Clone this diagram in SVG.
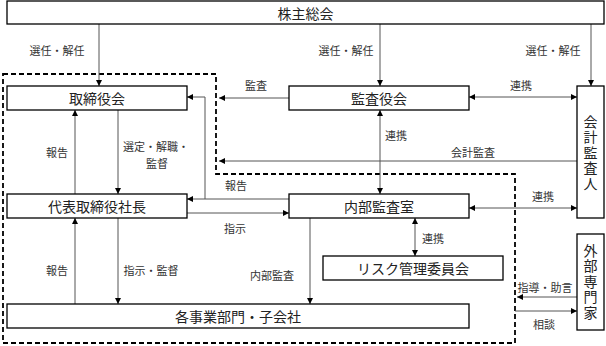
<svg xmlns="http://www.w3.org/2000/svg" width="606" height="346" viewBox="0 0 606 346">
<style>
.box{fill:#fff;stroke:#000;stroke-width:1.3}
.bt{font-family:"Noto Sans CJK JP","Noto Sans CJK SC",sans-serif;font-size:14px;fill:#222;text-anchor:middle;dominant-baseline:central}
.vt{font-family:"Noto Sans CJK JP","Noto Sans CJK SC",sans-serif;font-size:14px;fill:#222;text-anchor:middle;writing-mode:vertical-rl;letter-spacing:1.5px}
.lb{font-family:"Noto Sans CJK JP","Noto Sans CJK SC",sans-serif;font-size:11px;fill:#333;text-anchor:middle;dominant-baseline:central}
.ln{fill:none;stroke:#555;stroke-width:1}
.a{marker-end:url(#ah)}
.d{marker-start:url(#ah);marker-end:url(#ah)}
.dash{fill:none;stroke:#000;stroke-width:1.8;stroke-dasharray:5,3}
</style>
<defs>
<marker id="ah" markerUnits="userSpaceOnUse" markerWidth="7" markerHeight="7" refX="6" refY="3" orient="auto-start-reverse">
<path d="M0,0 L6,3 L0,6 z" fill="#000"/>
</marker>
</defs>
<rect width="606" height="346" fill="#fff"/>
<path class="dash" d="M3,74 H216 V174 H515 V343 H3 Z"/>
<g id="connectors">
<path class="ln a" d="M99,24 V86"/>
<path class="ln a" d="M380,24 V86"/>
<path class="ln a" d="M591,24 V86"/>
<path class="ln a" d="M289,98 H219"/>
<path class="ln d" d="M469,97 H577"/>
<path class="ln d" d="M380,110 V194"/>
<path class="ln a" d="M577,161 H219"/>
<path class="ln a" d="M289,199 H187"/>
<path class="ln a" d="M205,199 V97 H187"/>
<path class="ln a" d="M186,213 H289"/>
<path class="ln d" d="M469,208 H577"/>
<path class="ln a" d="M75,194 V110"/>
<path class="ln a" d="M118,110 V194"/>
<path class="ln a" d="M75,304 V218"/>
<path class="ln a" d="M118,218 V304"/>
<path class="ln a" d="M310,218 V304"/>
<path class="ln d" d="M415,218 V256"/>
<path class="ln a" d="M577,297 H517"/>
<path class="ln a" d="M515,311 H577"/>
<text class="lb" x="57" y="50">選任・解任</text>
<text class="lb" x="346" y="50">選任・解任</text>
<text class="lb" x="553" y="50">選任・解任</text>
<text class="lb" x="256" y="85">監査</text>
<text class="lb" x="521" y="85">連携</text>
<text class="lb" x="396" y="135">連携</text>
<text class="lb" x="473" y="152">会計監査</text>
<text class="lb" x="236" y="185">報告</text>
<text class="lb" x="235" y="228">指示</text>
<text class="lb" x="543" y="196">連携</text>
<text class="lb" x="57" y="152">報告</text>
<text class="lb" x="156" y="146">選定・解職・<tspan x="157" dy="17">監督</tspan></text>
<text class="lb" x="57" y="270">報告</text>
<text class="lb" x="151" y="270">指示・監督</text>
<text class="lb" x="272" y="275">内部監査</text>
<text class="lb" x="433" y="238">連携</text>
<text class="lb" x="545" y="287">指導・助言</text>
<text class="lb" x="544" y="324">相談</text>
</g>
<g id="shareholders"><rect class="box" x="7" y="1" width="597" height="23"/><text class="bt" x="305.5" y="12.5">株主総会</text></g>
<g id="board"><rect class="box" x="7" y="86" width="180" height="24"/><text class="bt" x="97" y="98">取締役会</text></g>
<g id="auditboard"><rect class="box" x="289" y="86" width="180" height="24"/><text class="bt" x="379" y="98">監査役会</text></g>
<g id="accountant"><rect class="box" x="577" y="86" width="27" height="132"/>
<text class="vt" x="590.5" y="153">会計監査人</text></g>
<g id="president"><rect class="box" x="7" y="194" width="180" height="24"/><text class="bt" x="97" y="206">代表取締役社長</text></g>
<g id="internalaudit"><rect class="box" x="289" y="194" width="180" height="24"/><text class="bt" x="379" y="206">内部監査室</text></g>
<g id="risk"><rect class="box" x="323" y="256" width="180" height="24"/><text class="bt" x="413" y="268">リスク管理委員会</text></g>
<g id="divisions"><rect class="box" x="7" y="304" width="462" height="24"/><text class="bt" x="238" y="316">各事業部門・子会社</text></g>
<g id="experts"><rect class="box" x="577" y="234" width="27" height="96"/>
<text class="vt" x="590.5" y="282">外部専門家</text></g>
</svg>
